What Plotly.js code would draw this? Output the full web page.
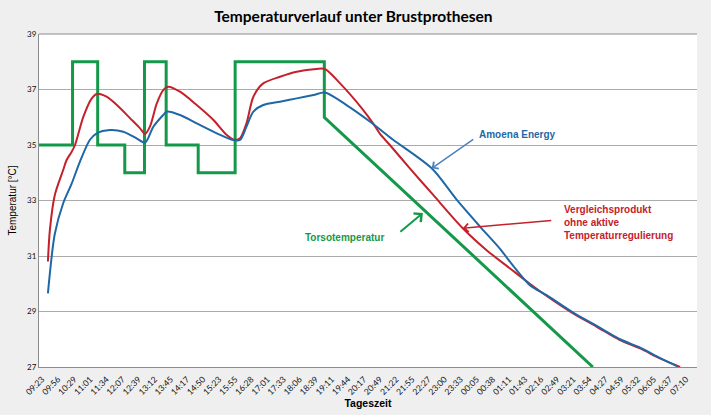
<!DOCTYPE html>
<html>
<head>
<meta charset="utf-8">
<script src="https://cdn.plot.ly/plotly-3.0.1.min.js"></script>
<style>html,body{margin:0;padding:0;background:#efefef;}#chart{width:711px;height:415px;}</style>
</head>
<body>
<div id="chart"></div>
<script>
// Tick labels (time of day), one every ~32.7 minutes starting 09:23
const tickLabels = ["09:23","09:56","10:29","11:01","11:34","12:07","12:39","13:12","13:45","14:17",
  "14:50","15:23","15:55","16:28","17:01","17:33","18:06","18:39","19:11","19:44","20:17","20:49",
  "21:22","21:55","22:27","23:00","23:33","00:05","00:38","01:11","01:43","02:16","02:49","03:21",
  "03:54","04:27","04:59","05:32","06:05","06:37","07:10"];
const tickStepMin = 32.675;

// Vergleichsprodukt ohne aktive Temperaturregulierung (minutes after 09:23, °C)
const redT = [12,16,26,43,50,60,67,84,101,111,131,152,179,199,209,219,233,246,256,280,314,348,375,392,402,415,429,449,483,517,551,574,605,652,672,686,706,747,794,854,903,950,990,1025,1078,1126,1173,1214,1254,1295];
const redV = [30.8,31.94,33.2,34.1,34.46,34.75,35.0,36.02,36.68,36.84,36.74,36.44,35.96,35.6,35.4,35.66,36.5,36.98,37.1,36.92,36.44,35.9,35.36,35.18,35.24,35.78,36.74,37.22,37.46,37.64,37.73,37.74,37.22,36.26,35.78,35.4,35.0,34.15,33.2,32.0,31.2,30.55,30.0,29.55,28.93,28.45,27.97,27.67,27.31,27.0];

// Amoena Energy
const blueT = [12,26,43,60,77,97,111,138,165,192,209,226,246,253,280,314,355,388,402,415,429,449,483,517,551,574,618,666,712,791,842,889,930,956,990,1025,1078,1126,1173,1214,1254,1289];
const blueV = [29.65,31.8,32.9,33.6,34.4,35.18,35.42,35.54,35.48,35.24,35.08,35.66,36.08,36.2,36.08,35.78,35.42,35.18,35.18,35.66,36.2,36.44,36.56,36.68,36.8,36.89,36.44,35.84,35.2,34.16,33.02,32.06,31.25,30.65,29.95,29.58,28.96,28.48,28.0,27.7,27.33,27.03];

// Torsotemperatur (step profile, then linear cooling)
const torsoT = [-6,62,62,113,113,168,168,208,208,252,252,317,317,392,392,573,573,1118];
const torsoV = [35,35,38,38,35,35,34,34,38,38,35,35,34,34,38,38,36,27];

const yTicks = [27,29,31,33,35,37,39];

const tickVals = tickLabels.map((_, i) => i * tickStepMin);

const traces = [
  {x: torsoT, y: torsoV, mode: 'lines', name: 'Torsotemperatur', line: {color: '#14994a', width: 3}},
  {x: redT, y: redV, mode: 'lines', name: 'Vergleichsprodukt', line: {color: '#c4222b', width: 2, shape: 'spline', smoothing: 0.8}},
  {x: blueT, y: blueV, mode: 'lines', name: 'Amoena Energy', line: {color: '#1f68a5', width: 2, shape: 'spline', smoothing: 0.8}}
];

const annFont = {family: 'Liberation Sans, Arial, sans-serif', size: 10};
const layout = {
  width: 711, height: 415,
  margin: {l: 39, r: 14, t: 34, b: 48},
  paper_bgcolor: '#efefef',
  plot_bgcolor: '#ffffff',
  showlegend: false,
  title: {text: '<b>Temperaturverlauf unter Brustprothesen</b>', x: 0.497, xanchor: 'center', y: 0.959, yanchor: 'middle',
    font: {family: 'Lato, sans-serif', size: 15.5, color: '#000'}},
  xaxis: {
    range: [-6.1, 1329.4], tickvals: tickVals, ticktext: tickLabels, tickangle: -45,
    tickfont: {family: 'Lato, sans-serif', size: 8.5, color: '#111'}, ticklabelstandoff: 3,
    showgrid: false, zeroline: false, showline: true, linecolor: '#8c8c8c', linewidth: 1, ticks: '',
    title: {text: '<b>Tageszeit</b>', font: {family: 'Liberation Sans, Arial, sans-serif', size: 10.5, color: '#000'}, standoff: 0}
  },
  yaxis: {
    range: [27, 39], tickvals: yTicks, ticktext: yTicks.map(String),
    tickfont: {family: 'Lato, sans-serif', size: 8, color: '#111'},
    showgrid: true, gridcolor: '#ababab', gridwidth: 1, zeroline: false,
    showline: true, linecolor: '#8c8c8c', linewidth: 1, ticks: '',
    title: {text: 'Temperatur [°C]', font: {family: 'Liberation Sans, Arial, sans-serif', size: 10, color: '#000'}, standoff: 8}
  },
  shapes: [
    {type: 'line', xref: 'paper', yref: 'paper', x0: 0, x1: 1, y0: 1, y1: 1, line: {color: '#8c8c8c', width: 1}}
  ],
  annotations: [
    {xref: 'paper', yref: 'paper', x: 0.6657, y: 0.6967, xanchor: 'left', yanchor: 'middle', showarrow: false,
      text: '<b>Amoena Energy</b>', font: Object.assign({}, annFont, {color: '#1f68a5'})},
    {xref: 'paper', yref: 'paper', x: 0.7944, y: 0.4354, xanchor: 'left', yanchor: 'middle', align: 'left', showarrow: false,
      text: '<b>Vergleichsprodukt<br>ohne aktive<br>Temperaturregulierung</b>', font: Object.assign({}, annFont, {color: '#c4222b'})},
    {xref: 'paper', yref: 'paper', x: 0.4012, y: 0.3874, xanchor: 'left', yanchor: 'middle', showarrow: false,
      text: '<b>Torsotemperatur</b>', font: Object.assign({}, annFont, {color: '#14994a'})},
    {x: 791, y: 34.16, ax: 43, ay: -30, text: ' ', font: {size: 1}, showarrow: true, arrowhead: 4, arrowsize: 1.1, arrowwidth: 1.5, arrowcolor: '#4f81bd', standoff: 0, startstandoff: 0},
    {x: 854, y: 32.0, ax: 90, ay: -8, text: ' ', font: {size: 1}, showarrow: true, arrowhead: 4, arrowsize: 1.1, arrowwidth: 1.5, arrowcolor: '#c4222b', standoff: 0, startstandoff: 0},
    {x: 773, y: 32.55, ax: -24, ay: 20, text: ' ', font: {size: 1}, showarrow: true, arrowhead: 4, arrowsize: 1.1, arrowwidth: 2, arrowcolor: '#14994a', standoff: 0, startstandoff: 0}
  ]
};

Plotly.newPlot('chart', traces, layout, {displayModeBar: false, staticPlot: true});
</script>
</body>
</html>
